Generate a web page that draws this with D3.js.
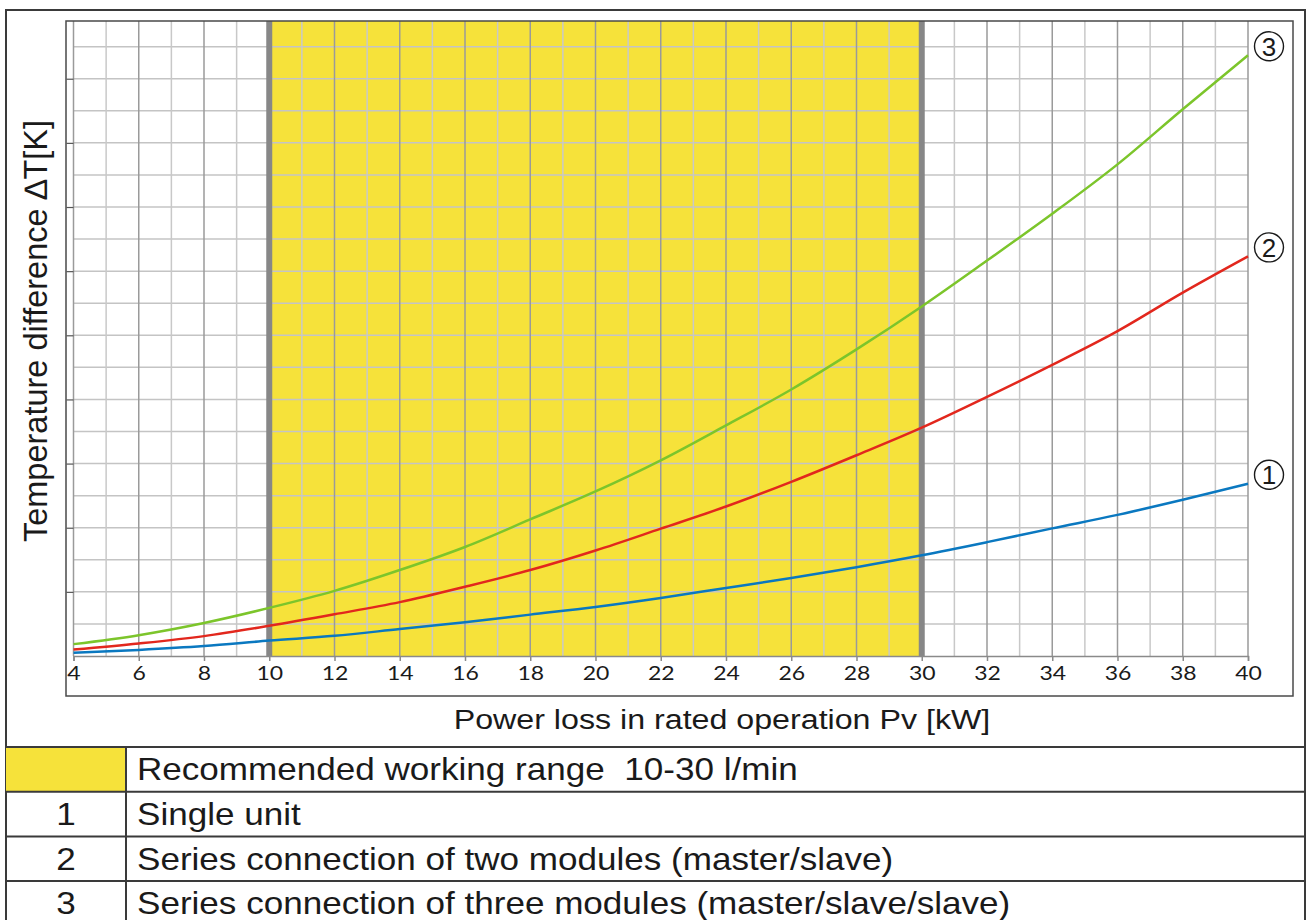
<!DOCTYPE html>
<html>
<head>
<meta charset="utf-8">
<script src="https://cdn.jsdelivr.net/npm/d3@7"></script>
<style>
  html, body { margin: 0; padding: 0; background: #fff; }
  svg { display: block; }
  text { font-family: "Liberation Sans", Arial, sans-serif; fill: #1a1a1a; white-space: pre; }
  .tick text { font-family: Lato, "Open Sans", sans-serif; }
</style>
</head>
<body>
<script>
// power loss Pv [kW]
const powerLoss = [4, 6, 8, 10, 12, 14, 16, 18, 20, 22, 24, 26, 28, 30, 32, 34, 36, 38, 40]
// temperature difference, in grid units (axis carries no numbers)
const singleUnit = [0.10, 0.19, 0.31, 0.48, 0.63, 0.84, 1.05, 1.29, 1.53, 1.81, 2.12, 2.43, 2.77, 3.14, 3.55, 3.98, 4.40, 4.87, 5.37]
const twoModules = [0.20, 0.39, 0.62, 0.94, 1.30, 1.68, 2.16, 2.68, 3.29, 3.97, 4.66, 5.43, 6.26, 7.12, 8.08, 9.08, 10.13, 11.33, 12.46]
const threeModules = [0.37, 0.65, 1.03, 1.50, 2.03, 2.68, 3.40, 4.26, 5.13, 6.10, 7.19, 8.31, 9.56, 10.90, 12.33, 13.79, 15.33, 17.05, 18.73]
const seriesNames = ["1", "2", "3"]
const seriesColors = ["#0a78c0", "#e2271d", "#7cc52b"]
const rangeBand = [10, 30]
const xTicks = [4, 6, 8, 10, 12, 14, 16, 18, 20, 22, 24, 26, 28, 30, 32, 34, 36, 38, 40]
const legendKeys = ["", "1", "2", "3"]
const legendTexts = [
  "Recommended working range  10-30 l/min",
  "Single unit",
  "Series connection of two modules (master/slave)",
  "Series connection of three modules (master/slave/slave)"
]

const width = 1309
const height = 920
const stretch = 1.15 // the original text is drawn a bit wide

const svg = d3.select("body").append("svg")
  .attr("width", width)
  .attr("height", height)

const x = d3.scaleLinear().domain([4, 40]).range([73.5, 1248])
const y = d3.scaleLinear().domain([0, 19.8]).range([656, 21])

// outer frame
svg.append("rect")
  .attr("x", 6).attr("y", 10).attr("width", 1299).attr("height", 915)
  .attr("fill", "none").attr("stroke", "#3a3a3a").attr("stroke-width", 2)

// recommended range fill
svg.append("rect")
  .attr("x", x(rangeBand[0])).attr("y", y(19.8))
  .attr("width", x(rangeBand[1]) - x(rangeBand[0]))
  .attr("height", y(0) - y(19.8))
  .attr("fill", "#f6e23a")

// grid: horizontal
const g = svg.append("g")
g.selectAll(".hgrid")
  .data(d3.range(1, 20))
  .enter().append("line")
  .attr("x1", x(4)).attr("x2", x(40))
  .attr("y1", d => y(d)).attr("y2", d => y(d))
  .attr("stroke", "#c4c4c4").attr("stroke-width", 1.5)

// grid: vertical (darker on even values)
g.selectAll(".vgrid")
  .data(d3.range(4, 41))
  .enter().append("line")
  .attr("x1", d => x(d)).attr("x2", d => x(d))
  .attr("y1", y(0)).attr("y2", y(19.8))
  .attr("stroke", d => d % 2 === 0 ? "#9a9a9a" : "#c8c8c8")
  .attr("stroke-width", 1.5)

// range limits
g.selectAll(".band")
  .data(rangeBand)
  .enter().append("line")
  .attr("x1", d => x(d)).attr("x2", d => x(d))
  .attr("y1", y(0)).attr("y2", y(19.8))
  .attr("stroke", "#878787").attr("stroke-width", 6)

// x axis
const xAxis = svg.append("g")
  .attr("transform", `translate(0,${y(0)})`)
  .call(d3.axisBottom(x).tickValues(xTicks).tickSize(5).tickPadding(5).tickFormat(d3.format("d")))
xAxis.select(".domain").attr("stroke", "#8a8a8a").attr("stroke-width", 1.5)
xAxis.selectAll(".tick line").attr("stroke", "#8a8a8a").attr("stroke-width", 1.5)
xAxis.selectAll(".tick text")
  .attr("font-size", 20).attr("fill", "#111")
  .attr("transform", `scale(${stretch},1)`)
  .attr("x", 0)

// y axis: ticks only
const yAxis = svg.append("g")
  .attr("transform", `translate(${x(4)},0)`)
  .call(d3.axisLeft(y).tickValues(d3.range(2, 20, 2)).tickSize(7).tickFormat(""))
yAxis.select(".domain").remove()
yAxis.selectAll(".tick line").attr("stroke", "#555").attr("stroke-width", 1.2)

// chart frame
svg.append("rect")
  .attr("x", 66).attr("y", 21).attr("width", 1227).attr("height", 675)
  .attr("fill", "none").attr("stroke", "#4a4a4a").attr("stroke-width", 1.5)

// curves
const allSeries = [singleUnit, twoModules, threeModules]
const line = d3.line()
  .x((d, i) => x(powerLoss[i]))
  .y(d => y(d))
  .curve(d3.curveMonotoneX)

svg.append("g").selectAll("path")
  .data(allSeries)
  .enter().append("path")
  .attr("d", line)
  .attr("fill", "none")
  .attr("stroke", (d, i) => seriesColors[i])
  .attr("stroke-width", 2.5)

// circled curve numbers
const marks = svg.append("g").selectAll("g")
  .data(allSeries)
  .enter().append("g")
  .attr("transform", d => `translate(${x(40) + 21},${y(d[d.length - 1]) - 9})`)
marks.append("circle")
  .attr("r", 14.5)
  .attr("fill", "#fff").attr("stroke", "#1a1a1a").attr("stroke-width", 1.4)
marks.append("text")
  .attr("text-anchor", "middle")
  .attr("dy", "0.36em")
  .attr("font-size", 26)
  .text((d, i) => seriesNames[i])

// axis titles
svg.append("text")
  .attr("transform", `translate(46.5,331) rotate(-90)`)
  .attr("text-anchor", "middle")
  .attr("font-size", 32.5)
  .text("Temperature difference \u2206T[K]")

svg.append("text")
  .attr("transform", `translate(722,729) scale(${stretch},1)`)
  .attr("text-anchor", "middle")
  .attr("font-size", 28)
  .text("Power loss in rated operation Pv [kW]")

// legend table
const rowTop = 747
const rowH = 44.7
const table = svg.append("g")
table.append("rect")
  .attr("x", 6).attr("y", rowTop).attr("width", 120).attr("height", rowH)
  .attr("fill", "#f6e23a")
table.selectAll(".rowline")
  .data(d3.range(legendKeys.length))
  .enter().append("line")
  .attr("x1", 6).attr("x2", 1305)
  .attr("y1", i => rowTop + i * rowH).attr("y2", i => rowTop + i * rowH)
  .attr("stroke", "#3a3a3a").attr("stroke-width", 2)
table.append("line")
  .attr("x1", 126).attr("x2", 126)
  .attr("y1", rowTop).attr("y2", height)
  .attr("stroke", "#3a3a3a").attr("stroke-width", 2)
table.selectAll(".key")
  .data(legendKeys)
  .enter().append("text")
  .attr("transform", (d, i) => `translate(66,${rowTop + i * rowH + rowH / 2 + 11}) scale(${stretch},1)`)
  .attr("text-anchor", "middle")
  .attr("font-size", 30.5)
  .text(d => d)
table.selectAll(".label")
  .data(legendTexts)
  .enter().append("text")
  .attr("transform", (d, i) => `translate(137,${rowTop + i * rowH + rowH / 2 + 11}) scale(${stretch},1)`)
  .attr("font-size", 30.5)
  .text(d => d)
</script>
</body>
</html>
